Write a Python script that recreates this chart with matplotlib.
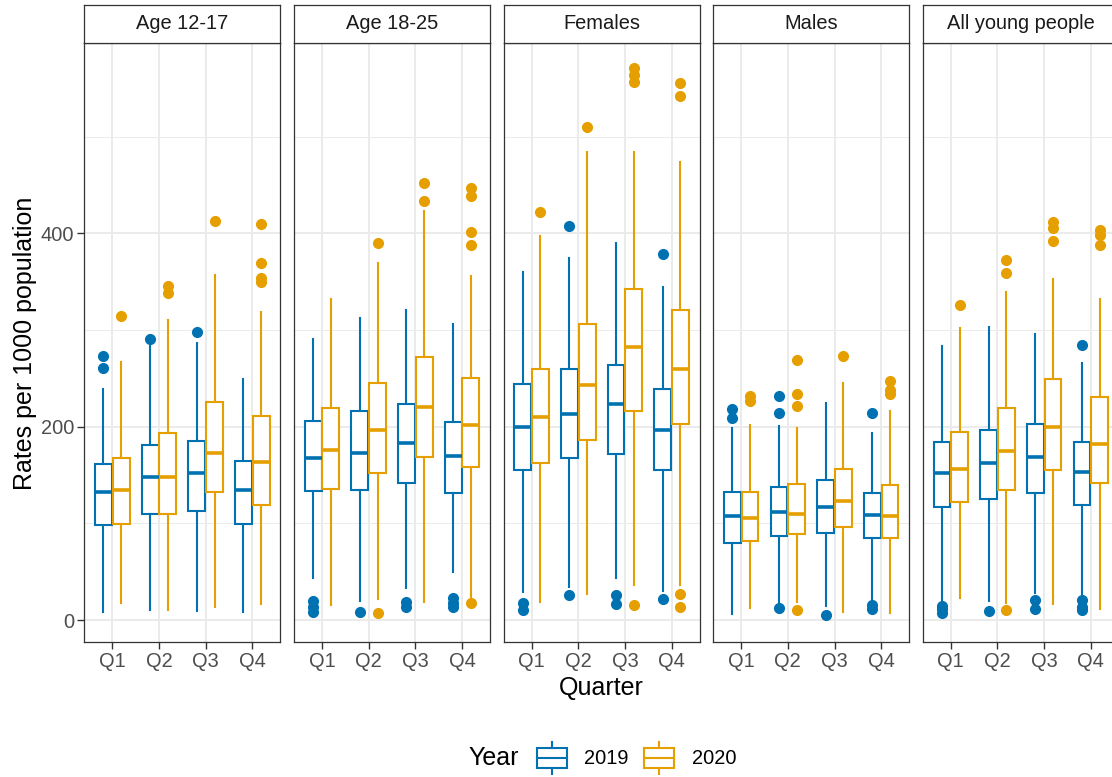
import matplotlib
matplotlib.use("Agg")
import matplotlib.pyplot as plt
from matplotlib.patches import Rectangle
from matplotlib.lines import Line2D

plt.rcParams['font.family'] = ['Liberation Sans', 'DejaVu Sans']

panels = ["Age 12-17", "Age 18-25", "Females", "Males", "All young people"]
quarters = ["Q1", "Q2", "Q3", "Q4"]
years = ["2019", "2020"]
year_colors = ["#0072B2", "#E69F00"]

# Box statistics per panel (rows) and quarter (columns)
lo_2019 = [[8, 10, 9, 8], [43, 20, 33, 50], [29, 34, 43, 30], [6, 15, 15, 19], [19, 20, 28, 25]]
q1_2019 = [[98, 110, 113, 99], [133, 135, 142, 131], [155, 168, 172, 155], [80, 87, 90, 85], [117, 125, 131, 119]]
med_2019 = [[132, 148, 152, 134], [168, 173, 183, 170], [200, 213, 223, 197], [108, 112, 117, 109], [152, 162, 169, 153]]
q3_2019 = [[161, 181, 185, 165], [206, 216, 223, 205], [244, 260, 264, 239], [132, 138, 145, 131], [184, 197, 203, 184]]
hi_2019 = [[239, 285, 287, 249], [291, 312, 321, 306], [360, 375, 390, 344], [199, 201, 224, 193], [283, 303, 296, 266]]
out_2019 = [
    [[261, 273], [291], [298], []],
    [[8, 14, 20], [8], [14, 19], [13, 18, 23]],
    [[10, 18], [26, 408], [17, 26], [22, 379]],
    [[209, 218], [12, 214, 232], [5], [11, 16, 214]],
    [[7, 11, 15], [9], [11, 21], [10, 14, 21, 284]],
]

lo_2020 = [[18, 10, 14, 17], [16, 22, 19, 24], [19, 27, 36, 36], [12, 19, 8, 7], [23, 18, 17, 11]]
q1_2020 = [[99, 110, 132, 119], [136, 152, 169, 158], [162, 186, 216, 203], [82, 89, 96, 85], [122, 135, 155, 142]]
med_2020 = [[134, 148, 173, 163], [176, 197, 220, 202], [210, 243, 282, 260], [106, 110, 123, 108], [156, 175, 200, 182]]
q3_2020 = [[168, 193, 226, 211], [219, 245, 272, 250], [260, 306, 342, 321], [132, 141, 156, 140], [195, 219, 249, 231]]
hi_2020 = [[267, 310, 357, 319], [332, 369, 423, 356], [397, 484, 484, 474], [202, 199, 245, 216], [302, 339, 353, 332]]
out_2020 = [
    [[315], [338, 346], [413], [350, 354, 369, 410]],
    [[], [7, 390], [433, 452], [18, 388, 401, 439, 447]],
    [[422], [510], [16, 557, 564, 571], [14, 27, 542, 556]],
    [[227, 232], [10, 221, 234, 269], [273], [234, 238, 247]],
    [[326], [10, 359, 372], [392, 406, 412], [388, 398, 403]],
]

stats_by_year = [
    (lo_2019, q1_2019, med_2019, q3_2019, hi_2019, out_2019),
    (lo_2020, q1_2020, med_2020, q3_2020, hi_2020, out_2020),
]

W, H = 1112, 777
fig = plt.figure(figsize=(W / 100, H / 100), dpi=100)


def fx(px):
    return px / W


def fy(py):
    return 1 - py / H


panel_left = [84.3, 294.0, 503.6, 713.2, 922.8]
pw = 196.0
p_top, p_bot = 42.7, 641.7
s_top = 5.0
border_col = "#333333"
grid_col = "#EBEBEB"
offsets = [-0.19, 0.19]

for i, name in enumerate(panels):
    ax = fig.add_axes([fx(panel_left[i]), fy(p_bot), pw / W, (p_bot - p_top) / H])
    ax.set_xlim(0.4, 4.6)
    ax.set_ylim(-22.4, 597.2)
    ax.set_axisbelow(True)
    ax.set_xticks(range(1, 5))
    ax.set_xticklabels(quarters)
    ax.set_yticks([0, 200, 400])
    ax.set_yticks([100, 300, 500], minor=True)
    ax.grid(which="major", color=grid_col, lw=1.4)
    ax.grid(which="minor", axis="y", color=grid_col, lw=0.7)
    ax.tick_params(axis="both", which="major", length=5, width=1.0, color=border_col,
                   labelsize=14.4, labelcolor="#4D4D4D", pad=2.5)
    ax.tick_params(axis="y", which="minor", length=0)
    if i > 0:
        ax.tick_params(axis="y", which="major", length=0, labelleft=False)
    for sp in ax.spines.values():
        sp.set_color(border_col)
        sp.set_linewidth(0.9)

    for y, c in enumerate(year_colors):
        lo, q1, med, q3, hi, out = stats_by_year[y]
        stats = []
        for q in range(4):
            stats.append(dict(med=med[i][q], q1=q1[i][q], q3=q3[i][q],
                              whislo=lo[i][q], whishi=hi[i][q], fliers=out[i][q]))
        ax.bxp(stats, positions=[q + 1 + offsets[y] for q in range(4)], widths=0.36,
               patch_artist=True, showcaps=False, manage_ticks=False,
               boxprops=dict(facecolor="white", edgecolor=c, linewidth=1.5),
               whiskerprops=dict(color=c, linewidth=1.5),
               medianprops=dict(color=c, linewidth=2.6),
               flierprops=dict(marker="o", markerfacecolor=c, markeredgecolor=c,
                               markersize=7, linestyle="none"))

    sax = fig.add_axes([fx(panel_left[i]), fy(p_top), pw / W, (p_top - s_top) / H])
    sax.set_xticks([])
    sax.set_yticks([])
    sax.set_facecolor("white")
    for sp in sax.spines.values():
        sp.set_color(border_col)
        sp.set_linewidth(0.9)
    sax.text(0.5, 0.5, name, ha="center", va="center", fontsize=14.4,
             color="#1A1A1A", transform=sax.transAxes)

fig.text(fx(25), fy(343), "Rates per 1000 population", rotation=90, ha="center",
         va="center", fontsize=18, color="black")
fig.text(fx(601), fy(688), "Quarter", ha="center", va="center", fontsize=18, color="black")

# Legend
lax = fig.add_axes([0, 0, 1, 1], zorder=-1)
lax.set_xlim(0, W)
lax.set_ylim(H, 0)
lax.axis("off")
ly = 758
lax.text(468, ly, "Year", ha="left", va="center", fontsize=18, color="black")
key_left = [537, 643.5]
lab_left = [584, 692]
for y, c in enumerate(year_colors):
    x0 = key_left[y]
    lax.add_patch(Rectangle((x0, ly - 10), 30, 20, facecolor="white", edgecolor=c, lw=1.5))
    lax.add_line(Line2D([x0, x0 + 30], [ly, ly], color=c, lw=1.5))
    lax.add_line(Line2D([x0 + 15, x0 + 15], [ly - 16, ly - 10], color=c, lw=1.5))
    lax.add_line(Line2D([x0 + 15, x0 + 15], [ly + 10, ly + 16], color=c, lw=1.5))
    lax.text(lab_left[y], ly, years[y], ha="left", va="center", fontsize=14.4, color="black")

fig.savefig("out.png", dpi=100)
